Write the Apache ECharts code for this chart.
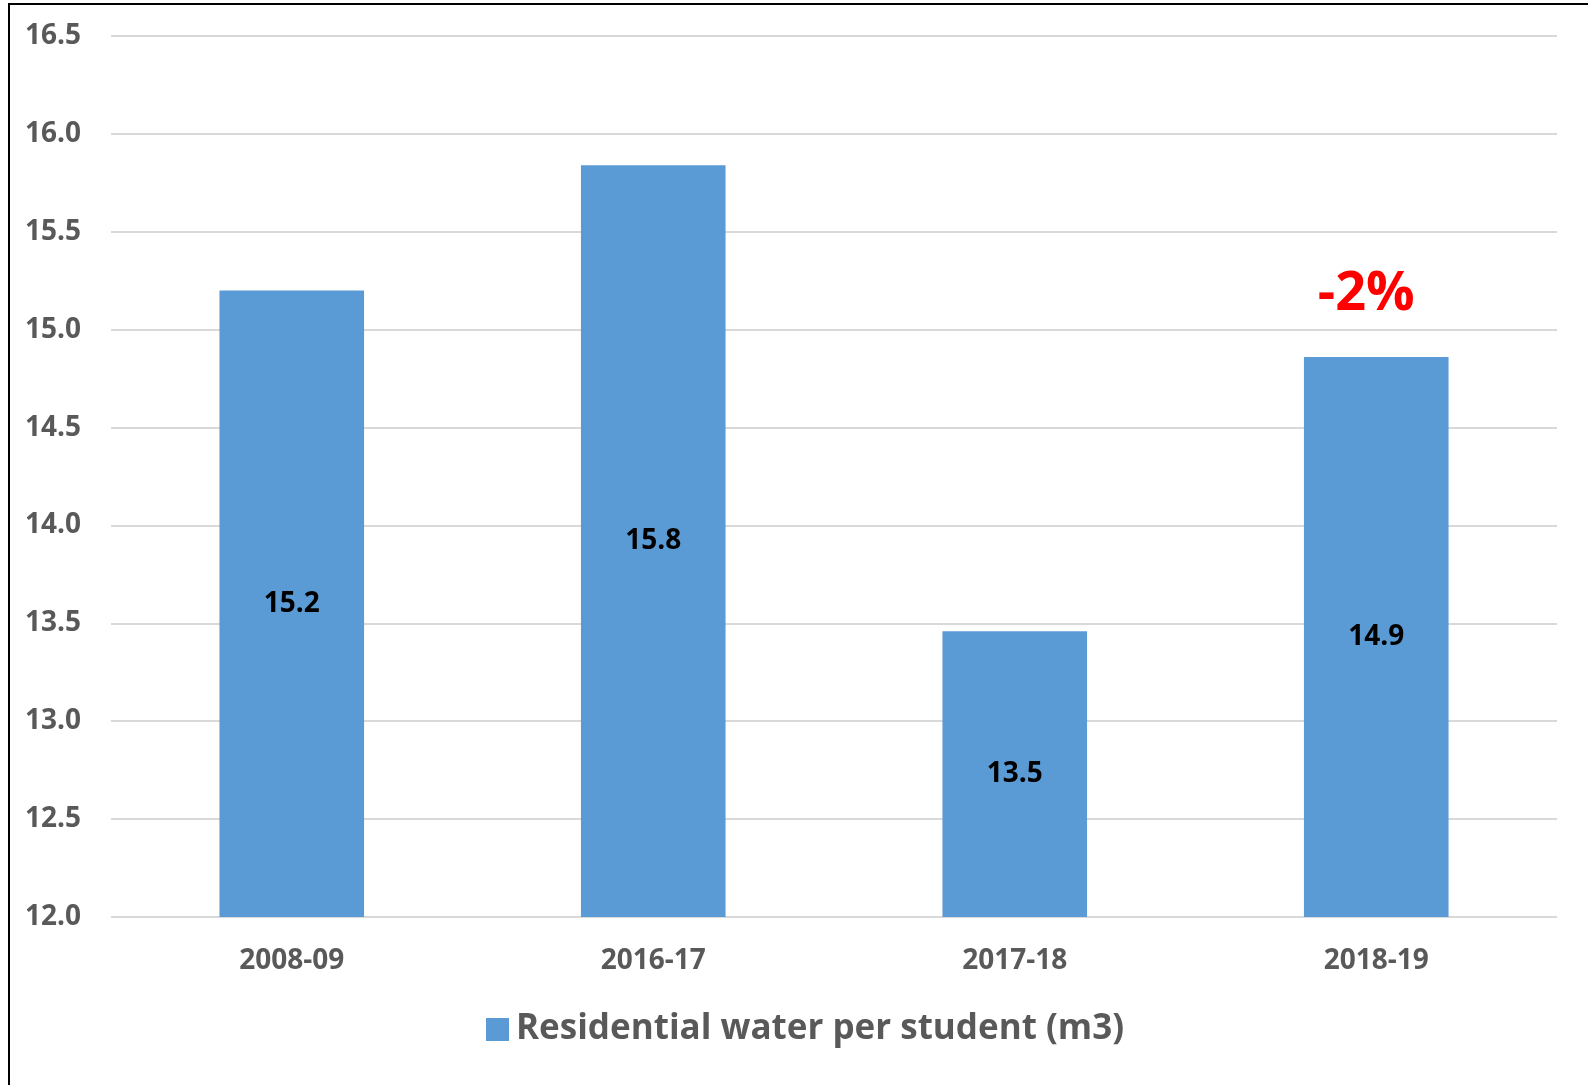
<!DOCTYPE html>
<html>
<head>
<meta charset="utf-8">
<script src="https://cdn.jsdelivr.net/npm/echarts@6/dist/echarts.min.js"></script>
<style>
html,body{margin:0;padding:0;background:#fff;}
#chart{width:1588px;height:1085px;}
</style>
</head>
<body>
<div id="chart"></div>
<script>
const categories = ['2008-09', '2016-17', '2017-18', '2018-19'];
const waterPerStudent = [15.2, 15.84, 13.46, 14.86];
const seriesName = 'Residential water per student (m3)';
const changeNote = '-2%';
const yTicks = { min: 12.0, max: 16.5, interval: 0.5 };

const FONT = '"Open Sans", sans-serif';
const chart = echarts.init(document.getElementById('chart'));
chart.setOption({
  backgroundColor: '#ffffff',
  animation: false,
  graphic: [{
    type: 'rect',
    shape: { x: 9, y: 4, width: 1700, height: 1200 },
    style: { fill: 'none', stroke: '#000', lineWidth: 2 },
    silent: true
  }],
  grid: { left: 111, right: 31, top: 36, bottom: 168, outerBoundsMode: 'none', containLabel: false },
  legend: {
    top: 1007,
    left: 481,
    itemWidth: 23,
    itemHeight: 23,
    itemGap: 10,
    icon: 'rect',
    textStyle: { fontFamily: FONT, fontWeight: 'bold', fontSize: 35, color: '#595959', padding: [0, 0, 0, 2] },
    data: [seriesName]
  },
  xAxis: {
    type: 'category',
    data: categories,
    axisLine: { show: false },
    axisTick: { show: false },
    axisLabel: { fontFamily: FONT, fontWeight: 'bold', fontSize: 28, color: '#595959', margin: 30 }
  },
  yAxis: {
    type: 'value',
    min: yTicks.min,
    max: yTicks.max,
    interval: yTicks.interval,
    axisLine: { show: false },
    axisTick: { show: false },
    splitLine: { lineStyle: { color: '#D9D9D9', width: 2 } },
    axisLabel: {
      fontFamily: FONT, fontWeight: 'bold', fontSize: 28, color: '#595959',
      margin: 86, align: 'left',
      formatter: v => v.toFixed(1)
    }
  },
  series: [{
    name: seriesName,
    type: 'bar',
    data: waterPerStudent,
    barWidth: '40%',
    itemStyle: { color: '#5B9BD5' },
    label: {
      show: true,
      position: 'inside',
      fontFamily: FONT, fontWeight: 'bold', fontSize: 28, color: '#000',
      formatter: p => p.value.toFixed(1)
    },
    markPoint: {
      symbol: 'rect',
      symbolSize: 1,
      itemStyle: { color: 'rgba(0,0,0,0)' },
      label: {
        show: true,
        position: 'inside',
        offset: [-10, -62],
        formatter: changeNote,
        fontFamily: FONT, fontWeight: 'bold', fontSize: 54, color: '#FF0000'
      },
      data: [{ coord: [categories[3], waterPerStudent[3]] }]
    }
  }]
});
</script>
</body>
</html>
